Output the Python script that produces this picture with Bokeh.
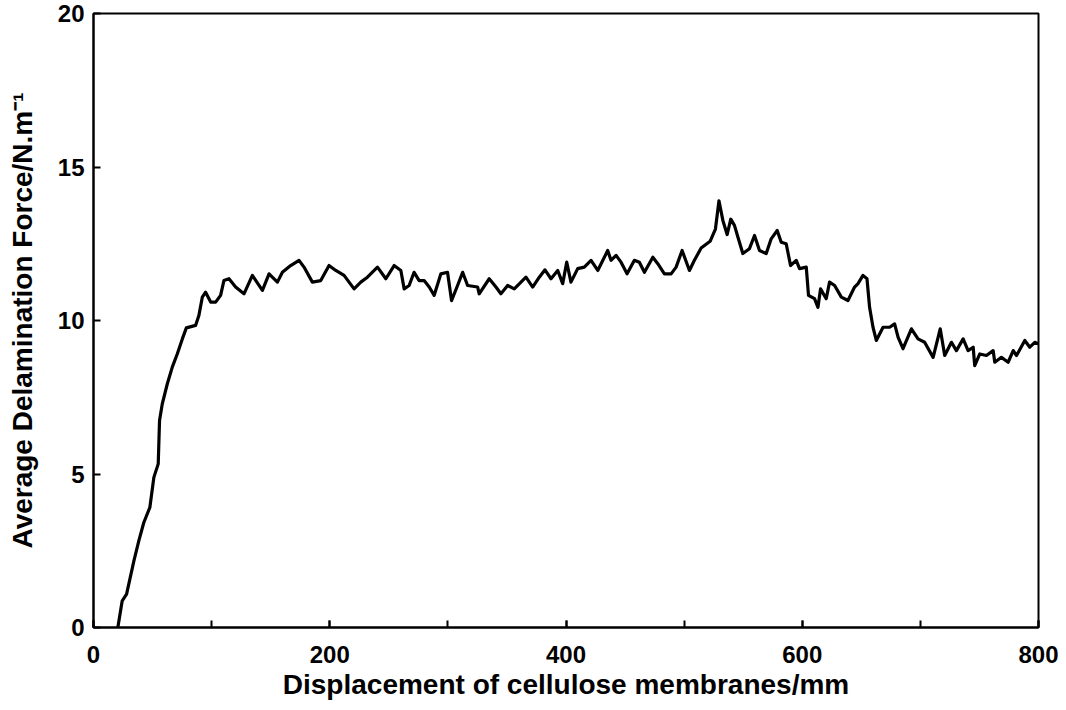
from bokeh.plotting import figure
from bokeh.models import Range1d, SingleIntervalTicker
from bokeh.embed import file_html
from bokeh.resources import INLINE

# Delamination test: displacement (mm) vs average delamination force (N/m)
displacement = [
    20.6, 24.3, 28.0, 34.2, 38.4, 42.6, 47.7, 51.1, 54.8, 55.9, 58.2, 62.5, 66.7, 70.9,
    75.2, 78.6, 86.4, 89.2, 92.1, 94.9, 99.2, 103.4, 107.6, 110.4, 114.7, 120.3, 127.4,
    134.5, 143.0, 148.6, 155.7, 159.9, 166.9, 174.0, 178.2, 185.3, 192.4, 199.4, 205.1,
    212.1, 220.6, 226.3, 231.9, 240.4, 247.5, 254.5, 260.2, 263.0, 267.2, 271.4, 275.7,
    279.9, 284.2, 288.4, 294.1, 299.7, 303.1, 308.2, 312.5, 316.7, 325.2, 326.5, 335.0,
    340.7, 344.9, 350.6, 356.2, 366.1, 371.8, 377.4, 382.2, 387.3, 393.0, 397.2, 400.6,
    404.2, 409.9, 415.5, 421.2, 426.9, 435.3, 438.1, 442.4, 446.6, 451.7, 457.9, 462.1,
    466.4, 473.5, 477.7, 483.3, 489.0, 493.2, 498.3, 504.5, 508.7, 514.4, 522.0, 526.5,
    529.5, 532.8, 536.4, 539.5, 542.6, 545.5, 549.7, 555.3, 559.6, 563.8, 569.5, 573.7,
    578.8, 582.2, 586.4, 590.1, 594.9, 597.7, 603.4, 605.3, 610.4, 613.3, 615.5, 620.3,
    623.1, 627.4, 633.1, 638.7, 644.3, 647.2, 651.4, 654.8, 657.0, 659.9, 662.7, 668.4,
    674.0, 678.2, 681.1, 685.3, 692.4, 698.0, 703.6, 710.8, 716.8, 720.6, 726.3, 730.5,
    736.2, 740.4, 744.7, 746.0, 750.3, 755.9, 761.6, 763.0, 768.6, 774.3, 778.6, 781.4,
    788.4, 792.6, 796.9, 799.7,
]
force = [
    0.00, 0.87, 1.09, 2.17, 2.83, 3.42, 3.91, 4.89, 5.33, 6.74, 7.28, 7.94, 8.48, 8.91,
    9.40, 9.76, 9.84, 10.16, 10.76, 10.92, 10.60, 10.60, 10.82, 11.30, 11.36, 11.09, 10.87,
    11.47, 10.98, 11.52, 11.25, 11.57, 11.79, 11.96, 11.74, 11.25, 11.30, 11.79, 11.63,
    11.47, 11.03, 11.25, 11.41, 11.74, 11.36, 11.79, 11.63, 11.03, 11.14, 11.57, 11.30,
    11.30, 11.09, 10.82, 11.52, 11.57, 10.65, 11.14, 11.57, 11.14, 11.09, 10.87, 11.36,
    11.09, 10.87, 11.14, 11.03, 11.41, 11.09, 11.41, 11.65, 11.36, 11.63, 11.20, 11.90,
    11.25, 11.69, 11.74, 11.96, 11.63, 12.28, 11.96, 12.12, 11.90, 11.52, 11.96, 11.90,
    11.57, 12.06, 11.85, 11.52, 11.52, 11.74, 12.28, 11.63, 11.96, 12.36, 12.58, 12.98,
    13.90, 13.26, 12.80, 13.30, 13.10, 12.72, 12.18, 12.34, 12.77, 12.28, 12.18, 12.66,
    12.93, 12.55, 12.50, 11.79, 11.96, 11.69, 11.74, 10.82, 10.71, 10.43, 11.03, 10.71,
    11.25, 11.14, 10.76, 10.65, 11.09, 11.20, 11.47, 11.36, 10.43, 9.78, 9.35, 9.78,
    9.78, 9.89, 9.46, 9.08, 9.73, 9.40, 9.29, 8.80, 9.73, 8.86, 9.29, 9.02,
    9.40, 9.02, 9.13, 8.53, 8.91, 8.86, 9.02, 8.64, 8.80, 8.64, 9.02, 8.86,
    9.35, 9.13, 9.29, 9.24,
]

x_ticks_step = 200
y_ticks_step = 5

FONT = "Liberation Sans"

p = figure(
    width=1066, height=710,
    x_range=Range1d(0, 800), y_range=Range1d(0, 20),
    output_backend="svg", toolbar_location=None,
    min_border_left=93, min_border_right=28,
    min_border_top=13, min_border_bottom=83,
)

p.line(displacement, force, line_color="black", line_width=3.2, line_join="round")

p.grid.visible = False
p.background_fill_color = "white"
p.border_fill_color = "white"
p.outline_line_color = "black"
p.outline_line_width = 2

p.xaxis.ticker = SingleIntervalTicker(interval=x_ticks_step, num_minor_ticks=2)
p.yaxis.ticker = SingleIntervalTicker(interval=y_ticks_step, num_minor_ticks=0)

for ax in (p.xaxis, p.yaxis):
    ax.axis_line_color = "black"
    ax.axis_line_width = 2
    ax.major_tick_line_color = "black"
    ax.major_tick_line_width = 2
    ax.major_tick_in = 7
    ax.major_tick_out = 0
    ax.minor_tick_line_color = "black"
    ax.minor_tick_line_width = 2
    ax.minor_tick_in = 7
    ax.minor_tick_out = 0
    ax.major_label_text_font = FONT
    ax.major_label_text_font_style = "bold"
    ax.major_label_text_font_size = "24px"
    ax.major_label_text_color = "black"
    ax.axis_label_text_font = FONT
    ax.axis_label_text_font_style = "bold"
    ax.axis_label_text_font_size = "28px"
    ax.axis_label_text_color = "black"

p.yaxis.minor_tick_line_color = None
p.xaxis.major_label_standoff = 18
p.yaxis.major_label_standoff = 9
p.xaxis.axis_label = "Displacement of cellulose membranes/mm"
p.yaxis.axis_label = "Average Delamination Force/N.m\u207b\u00b9"
p.xaxis.axis_label_standoff = 3
p.yaxis.axis_label_standoff = 17

open("out.html", "w").write(file_html(p, INLINE))
